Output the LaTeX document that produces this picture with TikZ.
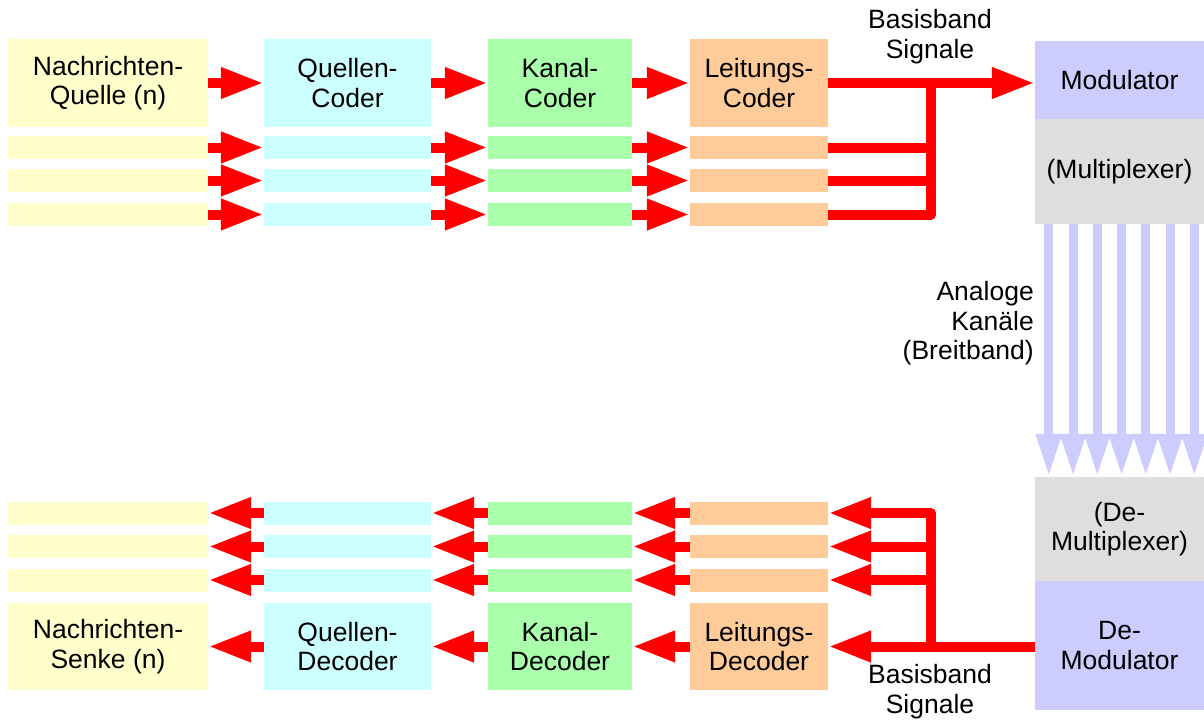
\documentclass[tikz,border=0pt]{standalone}
\usepackage{fontspec}
\setmainfont{Liberation Sans}
\usetikzlibrary{arrows.meta,calc}
\definecolor{srcY}{HTML}{FFFFCC}
\definecolor{qcC}{HTML}{CCFFFF}
\definecolor{kcG}{HTML}{AAFFAA}
\definecolor{lcO}{HTML}{FFCC99}
\definecolor{lav}{HTML}{CCCCFF}
\definecolor{mux}{HTML}{DFDEDD}
\tikzset{
  txt/.style={font=\fontsize{26.5}{29.5}\selectfont},
  blk/.style={fill=#1, draw=none, inner sep=0pt, align=center, txt},
  sig/.style={draw=red, line width=10pt, -{Triangle[length=43pt,width=29pt]}},
  sigline/.style={draw=red, line width=10pt, line join=round},
  band/.style={draw=lav, line width=9pt, -{Triangle[length=43pt,width=24pt]}},
  lbl/.style={inner sep=0pt, txt},
}
\begin{document}
\begin{tikzpicture}[x=1pt,y=-1pt]
\useasboundingbox (0,0) rectangle (1204,720);

% ---------- transmitter chain ----------
\node[blk=srcY, minimum width=200pt, minimum height=88pt] (Q) at (108,83) {Nachrichten-\\Quelle (n)};
\node[blk=qcC,  minimum width=167pt, minimum height=88pt] (QC) at (347.5,83) {Quellen-\\Coder};
\node[blk=kcG,  minimum width=144pt, minimum height=88pt] (KC) at (560,83) {Kanal-\\Coder};
\node[blk=lcO,  minimum width=138pt, minimum height=88pt] (LC) at (759,83) {Leitungs-\\Coder};
\foreach \i/\y in {1/147.5,2/180.5,3/214.5}{
  \node[blk=srcY, minimum width=200pt, minimum height=23pt] (Q\i) at (108,\y) {};
  \node[blk=qcC,  minimum width=167pt, minimum height=23pt] (QC\i) at (347.5,\y) {};
  \node[blk=kcG,  minimum width=144pt, minimum height=23pt] (KC\i) at (560,\y) {};
  \node[blk=lcO,  minimum width=138pt, minimum height=23pt] (LC\i) at (759,\y) {};
}
\foreach \s in {,1,2,3}{
  \draw[sig] (Q\s.east) -- (QC\s.west);
  \draw[sig] (QC\s.east) -- (KC\s.west);
  \draw[sig] (KC\s.east) -- (LC\s.west);
}

% ---------- modulator / multiplexer ----------
\node[blk=lav, minimum width=169pt, minimum height=78pt] (Mod) at (1119.5,80) {Modulator};
\node[blk=mux, minimum width=169pt, minimum height=105pt] (Mux) at (1119.5,171.5) {(Multiplexer)};

% bundling of the baseband lines
\coordinate (jt) at (931,83);
\draw[sigline] (LC3.east) -| (jt);
\draw[sigline] (LC1.east) -- (LC1.east -| jt);
\draw[sigline] (LC2.east) -- (LC2.east -| jt);
\draw[sig] (LC.east) -- (LC.east -| Mod.west);
\node[lbl, align=center] (bbt) at (930,36.4) {Basisband\\Signale};

% ---------- broadband channels ----------
\node[blk=mux, minimum width=169pt, minimum height=104pt] (Demux) at (1119.5,529) {(De-\\Multiplexer)};
\node[blk=lav, minimum width=169pt, minimum height=129pt] (DMod) at (1119.5,645.5) {De-\\Modulator};
\foreach \k in {0,...,6}{
  \draw[band] ([xshift={14pt+\k*24.25pt}]Mux.south west) -- ([xshift={14pt+\k*24.25pt}]Demux.north west);
}
\node[lbl, align=right, anchor=east] (ak) at (1034,323.3) {Analoge\\Kanäle\\(Breitband)};

% ---------- receiver chain ----------
\node[blk=srcY, minimum width=200pt, minimum height=87pt] (S) at (108,646.5) {Nachrichten-\\Senke (n)};
\node[blk=qcC,  minimum width=167pt, minimum height=87pt] (QD) at (347.5,646.5) {Quellen-\\Decoder};
\node[blk=kcG,  minimum width=144pt, minimum height=87pt] (KD) at (560,646.5) {Kanal-\\Decoder};
\node[blk=lcO,  minimum width=138pt, minimum height=87pt] (LD) at (759,646.5) {Leitungs-\\Decoder};
\foreach \i/\y in {1/513,2/546.5,3/580}{
  \node[blk=srcY, minimum width=200pt, minimum height=23pt] (S\i) at (108,\y) {};
  \node[blk=qcC,  minimum width=167pt, minimum height=23pt] (QD\i) at (347.5,\y) {};
  \node[blk=kcG,  minimum width=144pt, minimum height=23pt] (KD\i) at (560,\y) {};
  \node[blk=lcO,  minimum width=138pt, minimum height=23pt] (LD\i) at (759,\y) {};
}
\foreach \s in {,1,2,3}{
  \draw[sig] (QD\s.west) -- (S\s.east);
  \draw[sig] (KD\s.west) -- (QD\s.east);
  \draw[sig] (LD\s.west) -- (KD\s.east);
}

% distribution of the baseband lines
\coordinate (jb) at (931,646.5);
\draw[sig] (DMod.west |- LD.east) -- (LD.east);
\draw[sig, line join=round] (jb) |- (LD1.east);
\draw[sig] (LD2.east -| jb) -- (LD2.east);
\draw[sig] (LD3.east -| jb) -- (LD3.east);
\node[lbl, align=center] (bbb) at (930,691.4) {Basisband\\Signale};
\end{tikzpicture}
\end{document}
